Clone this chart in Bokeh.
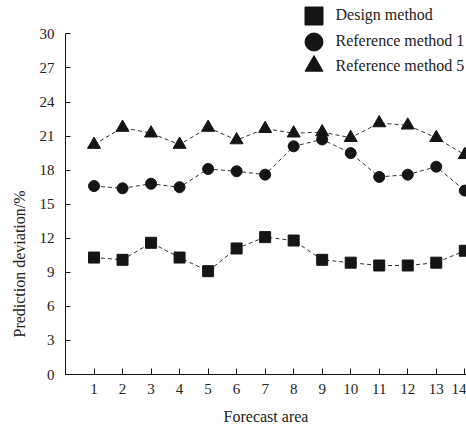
import math
from bokeh.plotting import figure
from bokeh.models import Range1d, FixedTicker, Legend, LegendItem, Title
from bokeh.embed import file_html
from bokeh.resources import INLINE

# ---- data ----
areas = list(range(1, 15))
design = [10.3, 10.1, 11.6, 10.3, 9.1, 11.1, 12.1, 11.8, 10.1, 9.85, 9.6, 9.6, 9.85, 10.9]
ref1 = [16.6, 16.4, 16.8, 16.5, 18.1, 17.9, 17.6, 20.1, 20.7, 19.5, 17.4, 17.6, 18.3, 16.2]
ref5 = [20.25, 21.75, 21.25, 20.25, 21.75, 20.65, 21.65, 21.25, 21.35, 20.85, 22.15, 21.95, 20.85, 19.35]
series_names = ["Design method", "Reference method 1", "Reference method 5"]
x_ticks = areas
y_ticks = [0, 3, 6, 9, 12, 15, 18, 21, 24, 27, 30]
y_axis_bounds = (0, 30)

FONT = "Liberation Serif"
INK = "#151515"

# frame reaches the top of the canvas (so the legend above the axis top is not clipped);
# the axis line itself is bounded to 0..30
p = figure(width=466, height=427, output_backend="svg", toolbar_location=None,
           x_range=Range1d(0, 14.06), y_range=Range1d(0, 32.94),
           min_border_left=64, min_border_right=0, min_border_top=0, min_border_bottom=52)
p.outline_line_color = None
p.xgrid.visible = False
p.ygrid.visible = False

for ax in (p.xaxis[0], p.yaxis[0]):
    ax.axis_line_color = "#111"
    ax.major_tick_line_color = "#111"
    ax.minor_tick_line_color = None
    ax.major_tick_out = 0
    ax.major_label_text_font = FONT
    ax.major_label_text_font_size = "15px"
    ax.major_label_text_color = "#222"
    ax.axis_label_text_font = FONT
    ax.axis_label_text_font_size = "16px"
    ax.axis_label_text_font_style = "normal"
    ax.axis_label_text_color = "#222"

p.xaxis.ticker = FixedTicker(ticks=x_ticks)
p.yaxis.ticker = FixedTicker(ticks=y_ticks)
p.yaxis.bounds = y_axis_bounds
p.xaxis.major_tick_in = 6
p.yaxis.major_tick_in = 5
p.xaxis.major_label_standoff = 9
p.yaxis.major_label_standoff = 11
p.xaxis.axis_label = "Forecast area"
p.xaxis.axis_label_standoff = 11

dash = "4 3"
p.line(areas, design, line_dash=dash, line_color="#333", line_width=1)
p.line(areas, ref1, line_dash=dash, line_color="#333", line_width=1)
p.line(areas, ref5, line_dash=dash, line_color="#333", line_width=1)

r_sq = p.scatter(areas, design, marker="square", size=11, fill_color=INK, line_color=INK)
r_ci = p.scatter(areas, ref1, marker="circle", size=11, fill_color=INK, line_color=INK)
r_tr = p.scatter(areas, ref5, marker="triangle", size=13, fill_color=INK, line_color=INK)

common = dict(padding=0, margin=0, border_line_color=None, background_fill_alpha=0,
              label_text_font=FONT, label_text_font_size="16px", label_text_color="#222",
              glyph_width=45, glyph_height=45, label_standoff=0)

# one legend per entry so that each row sits where the reference has it
for name, rend, ypos in [(series_names[0], r_sq, 336.3),
                         (series_names[1], r_ci, 310.5),
                         (series_names[2], r_tr, 286)]:
    p.add_layout(Legend(items=[LegendItem(label=name, renderers=[rend])],
                        location=(225.5, ypos), **common))

p.add_layout(Title(text="Prediction deviation/%", align="left", offset=37, standoff=17,
                   text_font=FONT, text_font_size="16px", text_font_style="normal",
                   text_color="#222"), "left")

open("out.html", "w").write(file_html(p, INLINE))
